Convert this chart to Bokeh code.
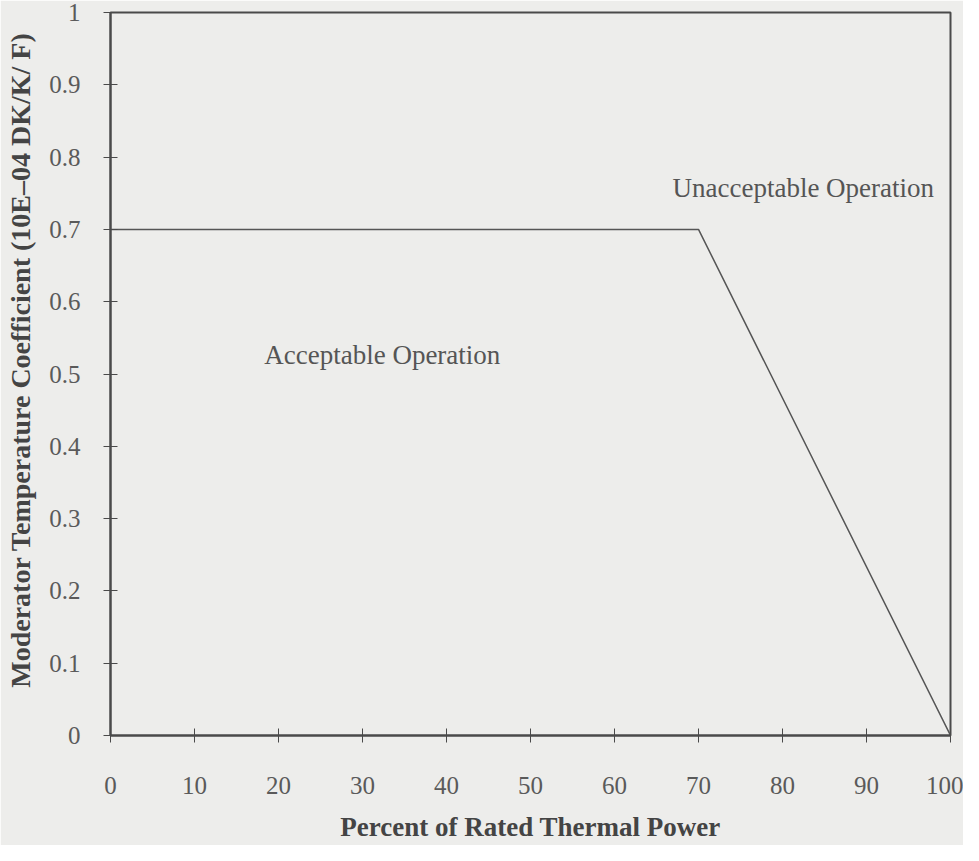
from bokeh.plotting import figure
from bokeh.models import Range1d, FixedTicker, Label
from bokeh.embed import file_html
from bokeh.resources import INLINE

power = [0, 70, 100]
mtc = [0.7, 0.7, 0.0]
x_ticks = [0, 10, 20, 30, 40, 50, 60, 70, 80, 90, 100]
y_ticks = [0, 0.1, 0.2, 0.3, 0.4, 0.5, 0.6, 0.7, 0.8, 0.9, 1]

bg = "#ededeb"
ink = "#4a4a4a"
font = "Liberation Serif"

p = figure(width=963, height=845, output_backend="svg", toolbar_location=None,
           x_range=Range1d(0, 100), y_range=Range1d(0, 1),
           min_border_left=110, min_border_right=13, min_border_top=12, min_border_bottom=110)
p.background_fill_color = bg
p.border_fill_color = bg
p.outline_line_color = ink
p.outline_line_width = 2
p.grid.visible = False

p.line(power, mtc, line_color="#555555", line_width=1.5)

for ax in (p.xaxis[0], p.yaxis[0]):
    ax.axis_line_color = ink
    ax.axis_line_width = 2
    ax.major_tick_line_color = ink
    ax.major_tick_in = 7
    ax.major_tick_out = 7
    ax.minor_tick_line_color = None
    ax.major_label_text_font = font
    ax.major_label_text_font_size = "25px"
    ax.major_label_text_color = "#5a5a5a"
    ax.axis_label_text_font = font
    ax.axis_label_text_font_style = "bold"
    ax.axis_label_text_color = "#444444"

p.xaxis[0].ticker = FixedTicker(ticks=x_ticks)
p.yaxis[0].ticker = FixedTicker(ticks=y_ticks)
p.xaxis[0].major_label_standoff = 34
p.yaxis[0].major_label_standoff = 23
p.xaxis[0].axis_label = "Percent of Rated Thermal Power"
p.yaxis[0].axis_label = "\u00a0\u00a0\u00a0\u00a0Moderator Temperature Coefficient (10E\u201304 DK/K/ F)"
p.xaxis[0].axis_label_text_font_size = "27px"
p.yaxis[0].axis_label_text_font_size = "28px"
p.xaxis[0].axis_label_standoff = 15
p.yaxis[0].axis_label_standoff = 10
p.yaxis[0].major_label_overrides = {0: "0", 1: "1"}

p.add_layout(Label(x=18.3, y=0.526, text="Acceptable Operation", text_font=font,
                   text_font_size="27px", text_color="#555555", text_baseline="middle"))
p.add_layout(Label(x=66.9, y=0.757, text="Unacceptable Operation", text_font=font,
                   text_font_size="27px", text_color="#555555", text_baseline="middle"))

open("out.html", "w").write(file_html(p, INLINE))
